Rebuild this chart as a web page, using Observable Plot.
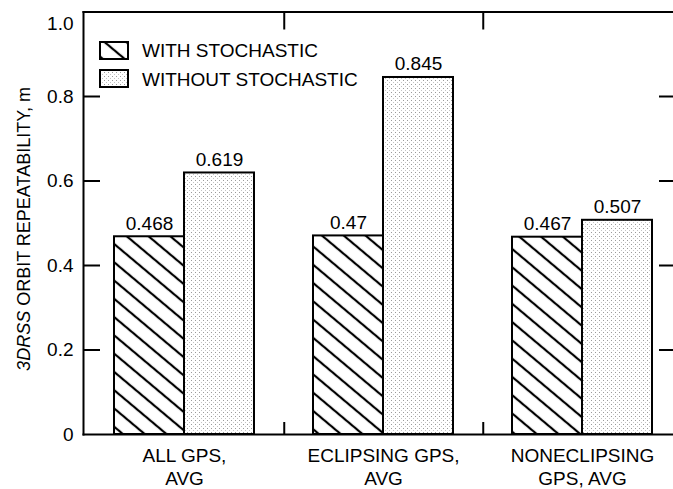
<!DOCTYPE html>
<html><head><meta charset="utf-8">
<script src="https://cdn.jsdelivr.net/npm/d3@7"></script>
<script src="https://cdn.jsdelivr.net/npm/@observablehq/plot@0.6"></script>
<style>
body{margin:0;background:#fff}
#chart{position:relative;width:673px;height:489px}
</style>
</head><body><div id="chart"></div>
<script>
// ---- data ----
const groups = ["ALL GPS, AVG", "ECLIPSING GPS, AVG", "NONECLIPSING GPS, AVG"];
const groupLabels = ["ALL GPS,\nAVG", "ECLIPSING GPS,\nAVG", "NONECLIPSING\nGPS, AVG"];
const series = ["WITH STOCHASTIC", "WITHOUT STOCHASTIC"];
const withStochastic = [0.468, 0.47, 0.467];
const withoutStochastic = [0.619, 0.845, 0.507];
const yTicks = [0, 0.2, 0.4, 0.6, 0.8, 1.0];
const yTickLabels = ["0", "0.2", "0.4", "0.6", "0.8", "1.0"];
const yTitleItalic = "3DRSS";
const yTitleRest = " ORBIT REPEATABILITY, m";

// ---- layout ----
const W = 673, H = 489;
const mL = 83, mR = 0, mT = 11.5, mB = 55;
const plotW = W - mL - mR, plotH = H - mT - mB;
const FONT = "'Liberation Sans', Arial, Helvetica, sans-serif";
const FS = 19;
const barW = 70;

const rows = groups.flatMap((g, i) => [
  {group: g, series: series[0], value: withStochastic[i]},
  {group: g, series: series[1], value: withoutStochastic[i]}
]);
const rowsWith = rows.filter(d => d.series === series[0]);
const rowsWithout = rows.filter(d => d.series === series[1]);
const inner = yTicks.filter(d => d > 0 && d < 1);

const plot = Plot.plot({
  width: W, height: H,
  marginLeft: mL, marginRight: mR, marginTop: mT, marginBottom: mB,
  style: {fontFamily: FONT, fontSize: FS + "px", background: "white", color: "black"},
  x: {domain: groups, range: [83.75, 682.25], paddingInner: 0.649, paddingOuter: 0.3246, axis: null},
  y: {domain: [0, 1], axis: null},
  marks: [
    Plot.barY(rowsWith, {x: "group", y: "value", dx: -barW / 2, fill: "url(#hatch)", stroke: "black", strokeWidth: 2}),
    Plot.barY(rowsWithout, {x: "group", y: "value", dx: barW / 2, fill: "url(#stipple)", stroke: "black", strokeWidth: 2}),
    Plot.text(rowsWith, {x: "group", y: "value", text: d => String(d.value), dx: -barW / 2, dy: -7, lineAnchor: "bottom", fontSize: FS}),
    Plot.text(rowsWithout, {x: "group", y: "value", text: d => String(d.value), dx: barW / 2, dy: -7, lineAnchor: "bottom", fontSize: FS}),
    // frame lines
    Plot.frame({anchor: "left", strokeWidth: 2}),
    Plot.frame({anchor: "top", strokeWidth: 2}),
    Plot.frame({anchor: "bottom", strokeWidth: 2}),
    // y ticks (inward, left and right)
    Plot.tickY(inner, {y: d => d, insetRight: plotW - 17, strokeWidth: 2}),
    Plot.tickY(inner, {y: d => d, insetLeft: plotW - 14, strokeWidth: 2}),
    // x ticks between groups (top and bottom)
    Plot.tickX(groups.slice(0, 2), {x: d => d, dx: 99.75, insetBottom: plotH - 18, strokeWidth: 2}),
    Plot.tickX(groups.slice(0, 2), {x: d => d, dx: 99.75, insetTop: plotH - 12, strokeWidth: 2}),
    // y tick labels
    Plot.text(yTicks.filter(d => d < 1), {y: d => d, text: d => yTickLabels[yTicks.indexOf(d)], frameAnchor: "left", textAnchor: "end", dx: -10, fontSize: FS}),
    Plot.text(yTicks.filter(d => d === 1), {y: d => d, text: d => yTickLabels[yTicks.indexOf(d)], frameAnchor: "left", textAnchor: "end", dx: -10, dy: 12, fontSize: FS}),
    // group labels
    Plot.text(groups, {x: d => d, text: (d, i) => groupLabels[i], frameAnchor: "bottom", lineAnchor: "top", dy: 11, lineHeight: 1.22, fontSize: FS})
  ]
});

const svg = d3.select(plot);
const defs = svg.insert("defs", ":first-child");
defs.append("pattern").attr("id", "hatch").attr("patternUnits", "userSpaceOnUse")
  .attr("width", 14).attr("height", 14).attr("patternTransform", "rotate(40)")
  .append("line").attr("x1", -1).attr("y1", 7).attr("x2", 15).attr("y2", 7)
  .attr("stroke", "#000").attr("stroke-width", 2.2);
const st = defs.append("pattern").attr("id", "stipple").attr("patternUnits", "userSpaceOnUse")
  .attr("width", 4).attr("height", 4);
st.append("rect").attr("width", 4).attr("height", 4).attr("fill", "#fff");
st.append("rect").attr("width", 1).attr("height", 1).attr("fill", "#9a9a9a");
st.append("rect").attr("x", 2).attr("y", 2).attr("width", 1).attr("height", 1).attr("fill", "#c4c4c4");

// legend
const lg = svg.append("g").attr("font-family", FONT).attr("font-size", FS).attr("text-anchor", "start");
[["url(#hatch)", 42, 50, series[0]], ["url(#stipple)", 70, 79, series[1]]].forEach(([f, y, ty, t]) => {
  lg.append("rect").attr("x", 100).attr("y", y).attr("width", 28).attr("height", 17)
    .attr("fill", f).attr("stroke", "#000").attr("stroke-width", 2);
  lg.append("text").attr("x", 142).attr("y", ty).attr("dy", "0.35em").attr("text-anchor", "start").text(t);
});

// y title with italic part
const yt = svg.append("text").attr("transform", "translate(24,229) rotate(-90)")
  .attr("text-anchor", "middle").attr("dy", "0.35em")
  .attr("font-family", FONT).attr("font-size", 18);
yt.append("tspan").attr("font-style", "italic").text(yTitleItalic);
yt.append("tspan").text(yTitleRest);

document.getElementById("chart").appendChild(plot);
</script>
</body></html>
